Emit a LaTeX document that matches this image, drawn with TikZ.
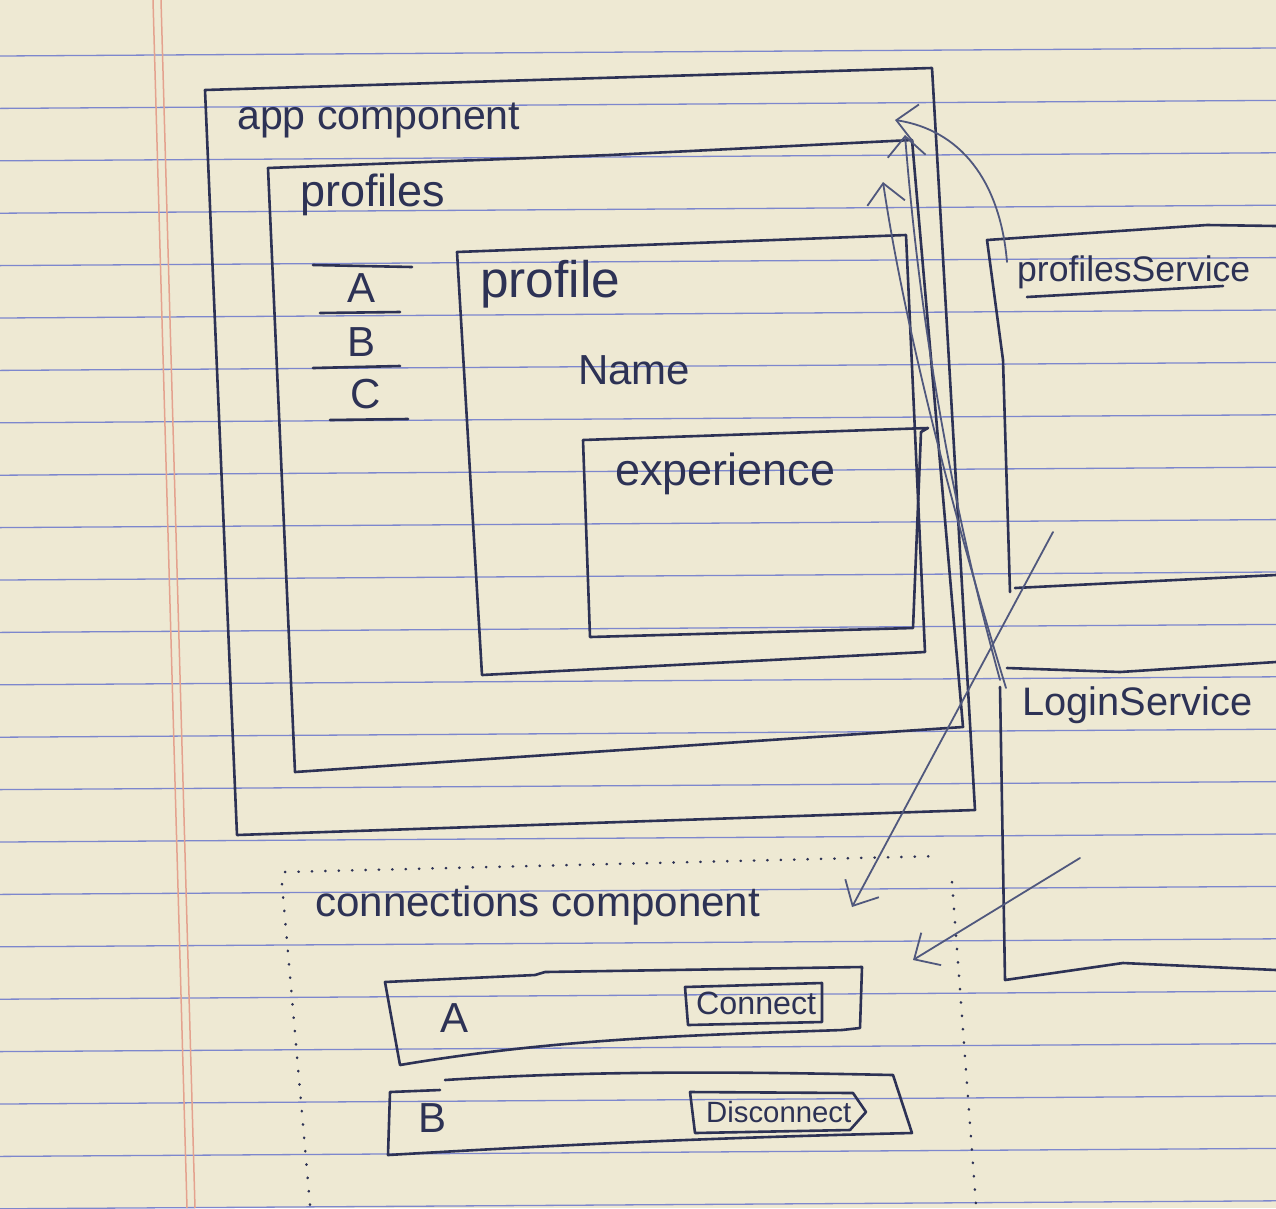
\documentclass[tikz,border=0pt]{standalone}
\usepackage{fontspec}
\setmainfont{Liberation Sans}
\usetikzlibrary{arrows.meta}
\definecolor{paper}{RGB}{238,233,211}
\definecolor{rulecol}{RGB}{125,135,205}
\definecolor{margincol}{RGB}{228,162,142}
\definecolor{ink}{RGB}{45,50,85}
\definecolor{pencil}{RGB}{80,88,125}
\newcommand{\hw}[2]{\resizebox{#1pt}{!}{#2}}
\newcommand{\bigletter}[1]{{\fontsize{42}{42}\selectfont #1}}

\begin{document}
\begin{tikzpicture}[x=1pt,y=-1pt,
  inkline/.style={draw=ink, line width=2.6pt, line cap=round, line join=round},
  thinline/.style={draw=pencil, line width=1.8pt, line cap=round, line join=round},
  dotline/.style={draw=ink, line width=2.6pt, line cap=round, dash pattern=on 0.4pt off 13pt},
  lbl/.style={text=ink, inner sep=0pt, anchor=west},
  handarrow/.style={thinline, -{Straight Barb[length=20pt,width=38pt,line width=1.8pt]}}
]
% paper
\fill[paper] (0,0) rectangle (1276,1208);
\useasboundingbox (0,0) rectangle (1276,1208);
\foreach \k in {0,...,22}
  \draw[rulecol, line width=1.3pt] (0,{56+52.4*\k}) -- (1276,{48+52.4*\k});
\draw[margincol, line width=1.5pt] (153,0) -- (187,1208);
\draw[margincol, line width=1.5pt] (161,0) -- (195,1208);

% app component
\draw[inkline] (237,835) -- (205,90) -- (600,78) -- (932,68) -- (975,810) -- cycle;
\node[lbl] (appLbl) at (237,120) {\hw{283}{app component}};

% profiles
\draw[inkline] (295,772) -- (268,168) -- (610,155) -- (912,140) -- (963,727) -- cycle;
\node[lbl] (profilesLbl) at (300,195) {\hw{145}{profiles}};

% list A / B / C
\draw[inkline] (313,265) -- (412,267);
\draw[inkline] (320,313) -- (400,312);
\draw[inkline] (313,368) -- (400,366);
\draw[inkline] (330,420) -- (408,419);
\node[text=ink] (itemA) at (362,288) {\bigletter{A}};
\node[text=ink] (itemB) at (362,342) {\bigletter{B}};
\node[text=ink] (itemC) at (366,394) {\bigletter{C}};

% profile
\draw[inkline] (482,675) -- (457,252) -- (906,235) -- (925,652) -- cycle;
\node[lbl] (profileLbl) at (480,284) {\hw{140}{profile}};
\node[lbl] (nameLbl) at (578,370) {\hw{112}{Name}};

% experience
\draw[inkline] (590,637) -- (583,440) -- (928,428) -- (921,432) -- (913,628) -- cycle;
\node[lbl] (expLbl) at (615,474) {\hw{220}{experience}};

% profilesService
\draw[inkline] (1276,226) -- (1207,225) -- (987,240) -- (1003,360) -- (1010,592);
\draw[inkline] (1015,588) -- (1276,575);
\node[lbl] (psLbl) at (1017,272) {\hw{233}{profilesService}};
\draw[inkline] (1027,297) -- (1223,286);

% LoginService
\draw[inkline] (1007,668) -- (1120,672) -- (1276,662);
\draw[inkline] (1000,687) -- (1005,980) -- (1123,963) -- (1276,970);
\node[lbl] (lsLbl) at (1022,705) {\hw{230}{LoginService}};

% connections component (dotted outline)
\draw[dotline] (285,872) -- (940,856);
\draw[dotline] (282,884) -- (310,1205);
\draw[dotline] (952,882) -- (976,1205);
\node[lbl] (connLbl) at (315,906) {\hw{445}{connections component}};

% row A
\draw[inkline] (385,982) -- (535,975) -- (545,972) -- (862,967) -- (860,1028) -- (842,1030)
  .. controls (700,1035) and (560,1038) .. (400,1065) -- cycle;
\node[text=ink] (rowA) at (455,1018) {\bigletter{A}};
\draw[inkline] (685,987) -- (822,983) -- (822,1022) -- (688,1025) -- cycle;
\node[lbl] (connectBtn) at (696,1003) {\hw{120}{Connect}};

% row B
\draw[inkline] (445,1080) .. controls (600,1070) and (750,1072) .. (893,1075) -- (912,1133)
  .. controls (700,1138) and (560,1145) .. (388,1155) -- (390,1092) -- (440,1090);
\node[text=ink] (rowB) at (433,1118) {\bigletter{B}};
\draw[inkline] (690,1092) -- (853,1093) -- (866,1112) -- (850,1130) -- (695,1133) -- cycle;
\node[lbl] (disconnectBtn) at (706,1112) {\hw{145}{Disconnect}};

% arrow anchor points
\coordinate (psTop) at (1007,262);
\coordinate (appIn) at (895,120);
\coordinate (lsTopA) at (1006,688);
\coordinate (lsTopB) at (1000,680);
\coordinate (profilesIn) at (883,182);
\coordinate (appIn2) at (905,135);
\coordinate (psMid) at (1053,532);
\coordinate (connIn) at (852,907);
\coordinate (lsMid) at (1080,858);
\coordinate (connIn2) at (913,960);

% service links
\draw[handarrow] (psTop) .. controls (1000,180) and (960,130) .. (appIn);
\draw[handarrow] (lsTopA) .. controls (955,520) and (905,330) .. (profilesIn);
\draw[handarrow] (lsTopB) .. controls (945,480) and (918,300) .. (appIn2);
\draw[handarrow] (psMid) -- (connIn);
\draw[handarrow] (lsMid) -- (connIn2);
\end{tikzpicture}
\end{document}
